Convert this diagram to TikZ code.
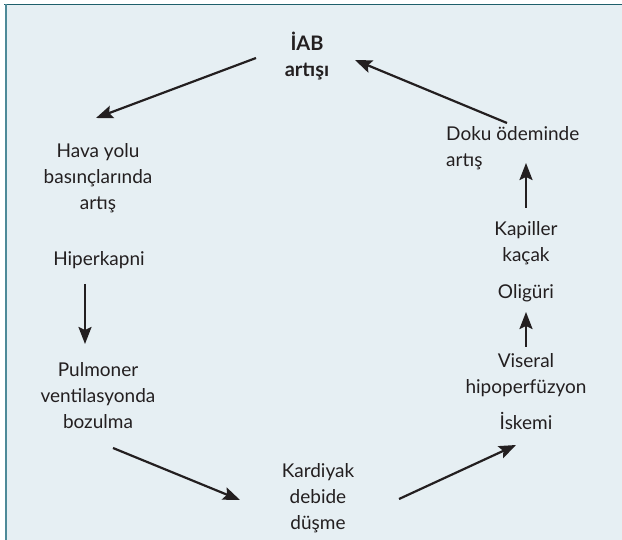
\documentclass[tikz,border=0pt]{standalone}
\usepackage{fontspec}
\setmainfont{Lato}
\usetikzlibrary{arrows.meta}
\definecolor{bgc}{HTML}{E6EFF3}
\definecolor{topc}{HTML}{1E5F6B}
\definecolor{leftc}{HTML}{4E8A98}
\definecolor{ink}{HTML}{231F20}
\begin{document}
\begin{tikzpicture}[x=1pt,y=-1pt,
  lbl/.style={font=\fontsize{19}{26}\selectfont, text=ink, align=center, inner sep=0pt},
  arr/.style={-{Stealth[length=17pt,width=13pt,inset=3pt]}, line width=2.2pt, draw=ink}]
\useasboundingbox (0,0) rectangle (622,540);
\fill[bgc] (5,5) rectangle (622,540);
\draw[topc, line width=1.5pt] (4,4.5) -- (622,4.5);
\draw[leftc, line width=2pt] (5.5,4) -- (5.5,540);

\node[lbl, font=\fontsize{20}{26}\selectfont\bfseries] (iab) at (307,56) {İAB\\artışı};
\node[lbl] (hava) at (98,178) {Hava yolu\\basınçlarında\\artış};
\node[lbl] (hiper) at (99,260) {Hiperkapni};
\node[lbl] (pulm) at (98,396) {Pulmoner\\ventilasyonda\\bozulma};
\node[lbl] (kard) at (318,498) {Kardiyak\\debide\\düşme};
\node[lbl] (iskemi) at (526,421) {İskemi};
\node[lbl] (viseral) at (526,375) {Viseral\\hipoperfüzyon};
\node[lbl] (oliguri) at (526,293) {Oligüri};
\node[lbl] (kapiller) at (526,243) {Kapiller\\kaçak};
\node[lbl, align=left, anchor=west] (doku) at (446,148) {Doku ödeminde\\artış};

\coordinate (a1s) at (256,58);  \coordinate (a1e) at (96,118);
\coordinate (a2s) at (507,123); \coordinate (a2e) at (355,60);
\coordinate (a3s) at (85,284);  \coordinate (a3e) at (85,344);
\coordinate (a4s) at (113,448); \coordinate (a4e) at (240,500);
\coordinate (a5s) at (399,499); \coordinate (a5e) at (516,445);
\coordinate (a6s) at (526,347); \coordinate (a6e) at (526,312);
\coordinate (a7s) at (526,208); \coordinate (a7e) at (526,163);

\draw[arr] (a1s) -- (a1e);
\draw[arr] (a2s) -- (a2e);
\draw[arr] (a3s) -- (a3e);
\draw[arr] (a4s) -- (a4e);
\draw[arr] (a5s) -- (a5e);
\draw[arr] (a6s) -- (a6e);
\draw[arr] (a7s) -- (a7e);
\end{tikzpicture}
\end{document}
